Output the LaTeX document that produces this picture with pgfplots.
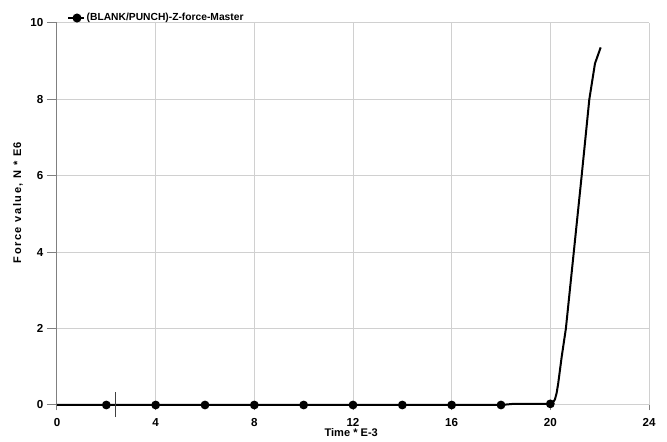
\documentclass[border=0pt]{standalone}
\usepackage{fontspec}
\setmainfont{Liberation Sans}
\newfontfamily\ylabfont{Liberation Sans}[LetterSpace=14]
\usepackage{pgfplots}
\pgfplotsset{compat=1.18}
\definecolor{gridgray}{HTML}{D0D0D0}
\definecolor{axgray}{HTML}{808080}
\begin{document}
\begin{tikzpicture}
\begin{axis}[
  scale only axis,
  width=444pt, height=286.5pt,
  xmin=0, xmax=24, ymin=0, ymax=10,
  xtick={0,4,...,24}, ytick={0,2,...,10},
  axis x line*=bottom, axis y line*=left,
  x axis line style={gridgray, line width=0.75pt, -},
  y axis line style={axgray, line width=0.75pt, -},
  grid=major,
  major grid style={gridgray, line width=0.75pt},
  tick align=outside,
  xtick style={axgray, line width=0.75pt, /pgfplots/major tick length=4pt},
  ytick style={axgray, line width=0.75pt, /pgfplots/major tick length=7.5pt},
  tick label style={font=\bfseries\fontsize{8.7}{10}\selectfont},
  /pgf/number format/assume math mode=true,
  xticklabel style={yshift=-2pt},
  yticklabel style={xshift=-2.5pt},
  every axis x label/.style={at={(axis description cs:0.497,0)}, anchor=center, yshift=-21pt, font=\bfseries\fontsize{8.3}{10}\selectfont},
  every axis y label/.style={at={(axis description cs:-0.066,0.53)}, anchor=center, rotate=90, font=\ylabfont\bfseries\fontsize{8.3}{10}\selectfont},
  xlabel={Time * E-3},
  ylabel={Force value, N * E6},
  clip=false,
  legend style={at={(axis description cs:0.0169,1.013)}, anchor=west, draw=none, fill=none, inner sep=0pt, outer sep=0pt,
    font=\bfseries\fontsize{7.7}{9}\selectfont, nodes={inner sep=0pt, outer sep=0pt}},
  legend image code/.code={%
    \draw[black, line width=1.5pt] (0pt,0pt) -- (12pt,0pt);
    \fill[black] (6.75pt,0pt) circle (2.6pt);
  },
  legend cell align=left,
]
\addplot[black, line width=1.5pt, mark=*, mark size=2.5pt, mark indices={2,3,4,5,6,7,8,9,10,12}] coordinates {
  (0,0) (2,0) (4,0) (6,0) (8,0) (10,0) (12,0) (14,0) (16,0) (18,0)
  (18.5,0.03) (20,0.03) (20.1,0.06) (20.19,0.15) (20.26,0.33) (20.32,0.57) (20.46,1.26)
  (20.63,2.0) (20.95,4.0) (21.27,6.0) (21.58,8.0) (21.81,8.94) (22.04,9.36)
};
\addlegendentry{\,(BLANK/PUNCH)-Z-force-Master}
\addplot[color={rgb,255:red,64;green,64;blue,64}, line width=0.75pt, forget plot] coordinates {(2.39,-0.32) (2.39,0.35)};
\end{axis}
\pgfresetboundingbox
\path[use as bounding box] (-42.75pt,-27.75pt) rectangle (457.5pt,303.75pt);
\end{tikzpicture}
\end{document}
